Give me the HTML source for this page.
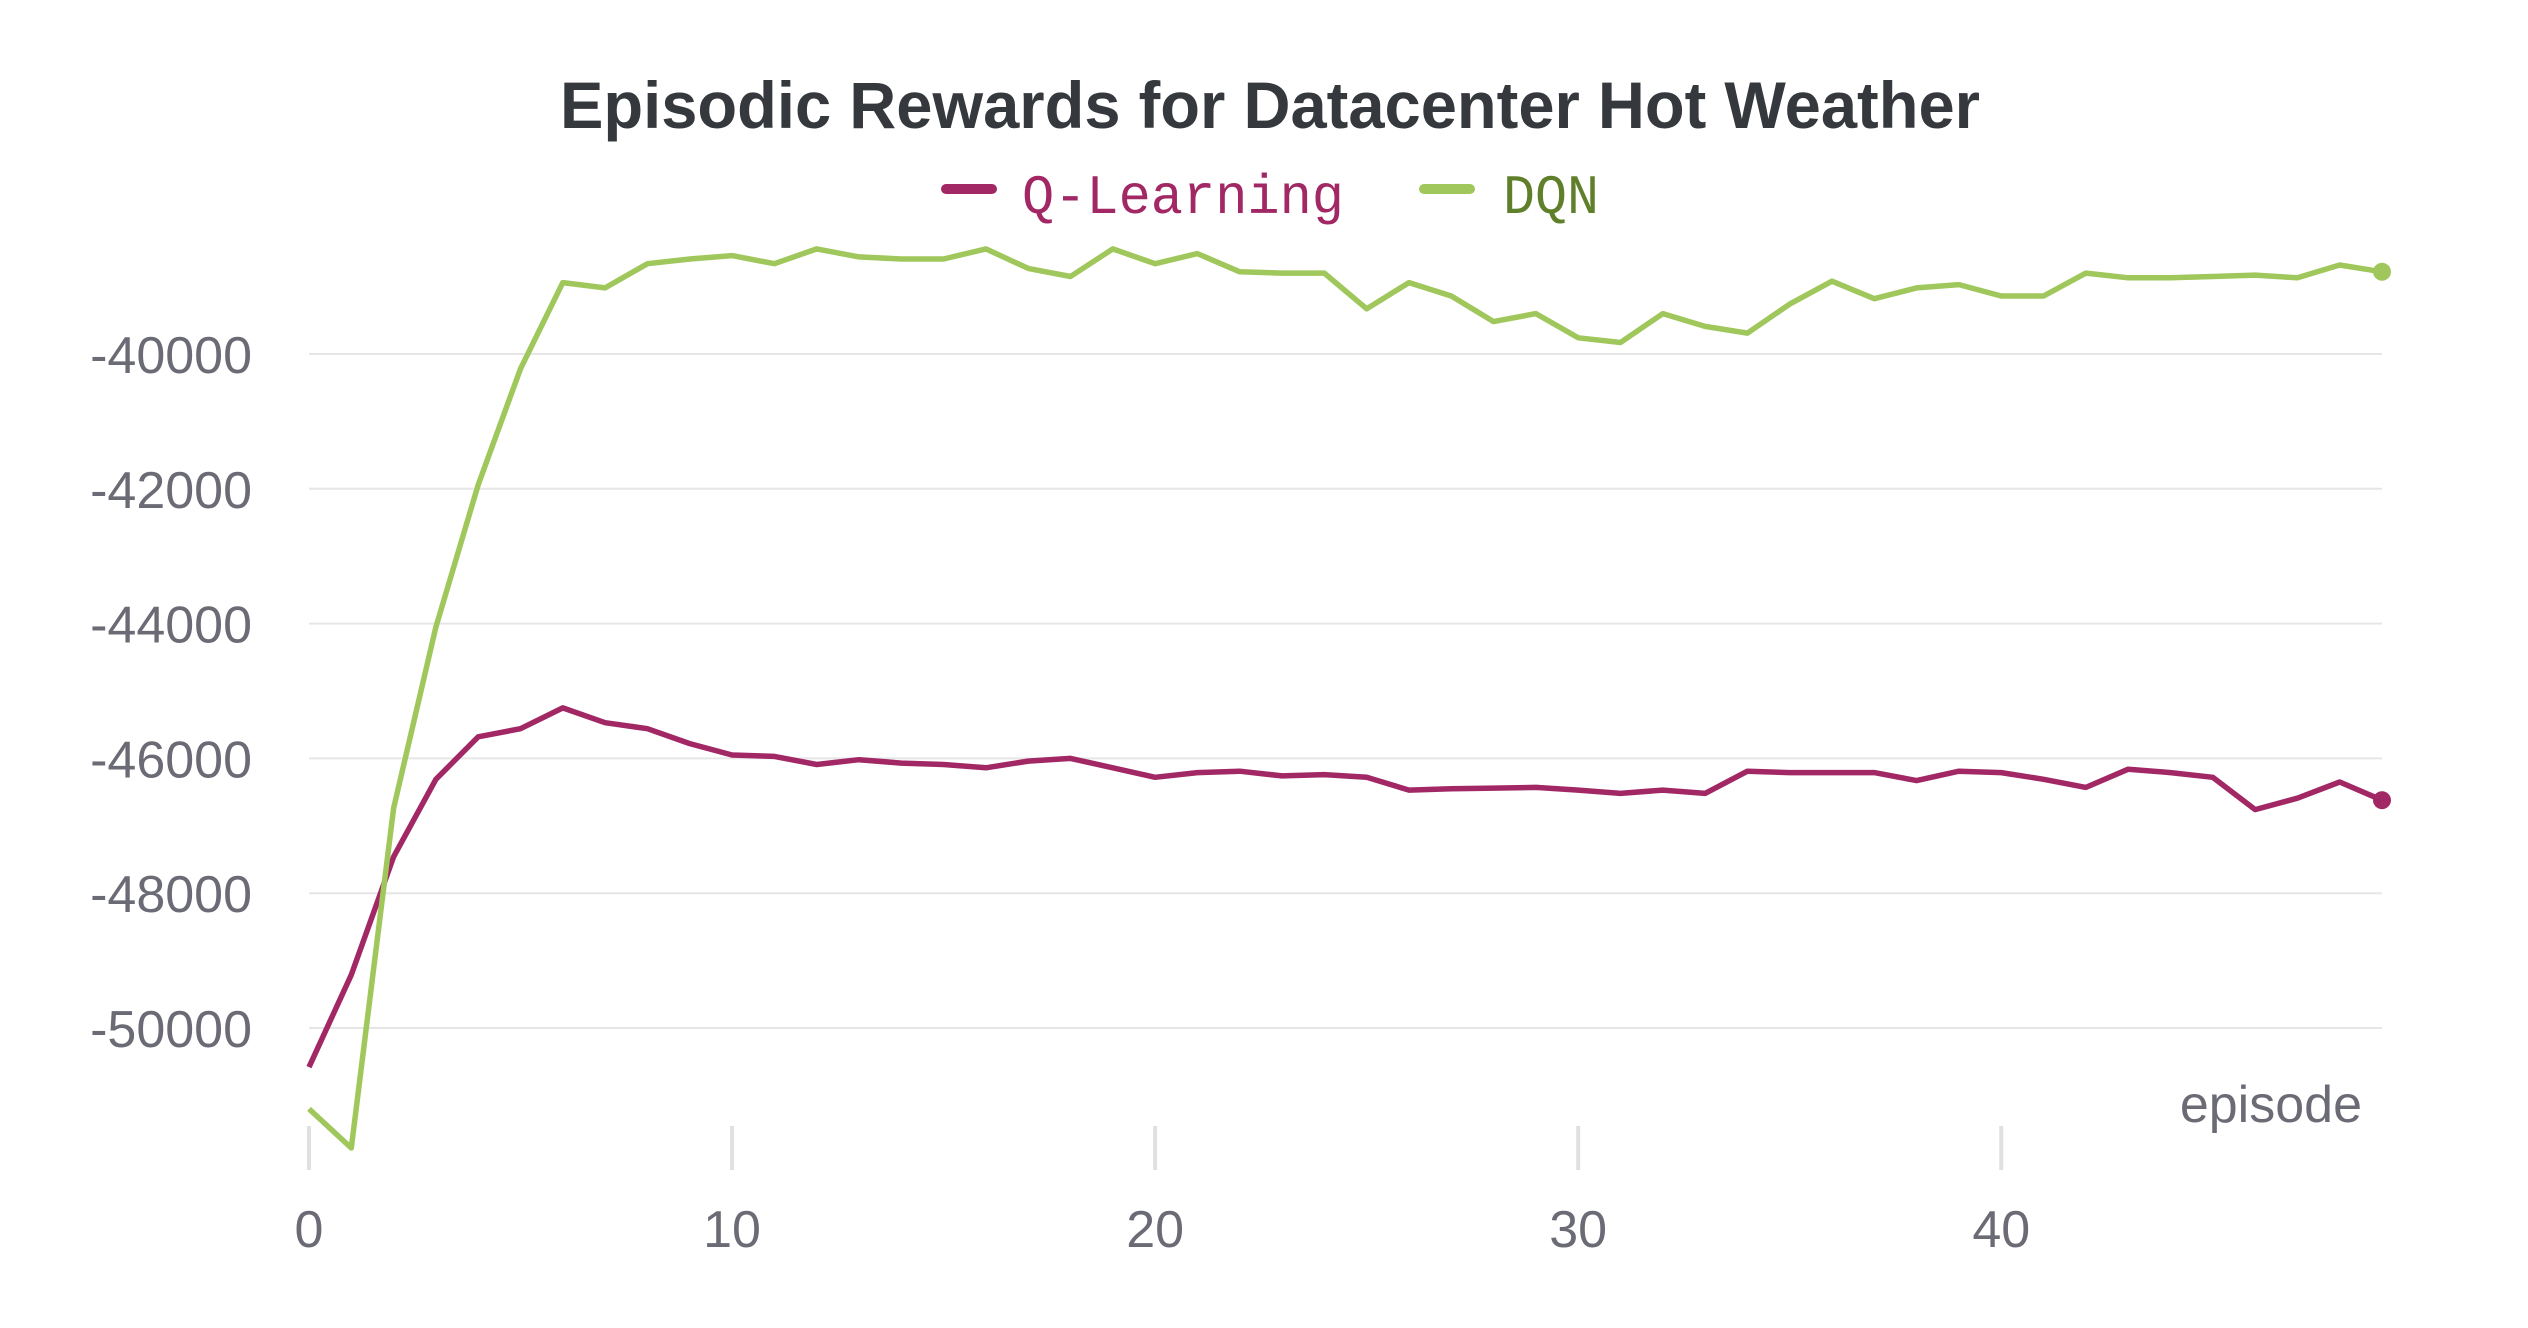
<!DOCTYPE html>
<html><head><meta charset="utf-8"><style>
html,body{margin:0;padding:0;background:#fff;}
svg{display:block;}
</style></head><body>
<svg id="chart" width="2528" height="1328" viewBox="0 0 2528 1328" xmlns="http://www.w3.org/2000/svg">
<text x="1270" y="128" text-anchor="middle" font-family="Liberation Sans, sans-serif" font-weight="bold" font-size="66" fill="#35383c" textLength="1420" lengthAdjust="spacingAndGlyphs">Episodic Rewards for Datacenter Hot Weather</text>
<g>
<line x1="946" y1="189" x2="992" y2="189" stroke="#a12864" stroke-width="10" stroke-linecap="round"/>
<text x="1022" y="213" font-family="Liberation Mono, monospace" font-size="56" fill="#a12864" textLength="322" lengthAdjust="spacingAndGlyphs">Q-Learning</text>
<line x1="1424" y1="189" x2="1470" y2="189" stroke="#a0c75c" stroke-width="10" stroke-linecap="round"/>
<text x="1503" y="213" font-family="Liberation Mono, monospace" font-size="56" fill="#5f7f2a" textLength="96" lengthAdjust="spacingAndGlyphs">DQN</text>
</g>
<g id="grid"></g>
<g id="axes"></g>
<g id="series"></g>
<text x="2362" y="1122" text-anchor="end" font-family="Liberation Sans, sans-serif" font-size="52" fill="#6b6b76">episode</text>
</svg>
<script>
const episodes = Array.from({length:50},(_,i)=>i);
const qLearning = [-50580,-49210,-47460,-46310,-45680,-45560,-45250,-45470,-45560,-45780,-45950,-45970,-46090,-46020,-46070,-46090,-46140,-46040,-46000,-46140,-46280,-46210,-46190,-46260,-46240,-46280,-46470,-46450,-46440,-46430,-46470,-46520,-46470,-46520,-46190,-46210,-46210,-46210,-46330,-46190,-46210,-46310,-46430,-46160,-46210,-46280,-46760,-46590,-46350,-46620];
const dqn = [-51200,-51780,-46740,-44050,-41940,-40220,-38940,-39020,-38660,-38590,-38540,-38660,-38440,-38560,-38590,-38590,-38440,-38730,-38850,-38440,-38660,-38510,-38780,-38800,-38800,-39330,-38940,-39140,-39520,-39400,-39760,-39830,-39400,-39590,-39690,-39260,-38920,-39180,-39020,-38970,-39140,-39140,-38800,-38870,-38870,-38850,-38830,-38870,-38680,-38780];
const yTicks = [-40000,-42000,-44000,-46000,-48000,-50000];
const xTicks = [0,10,20,30,40];

const NS='http://www.w3.org/2000/svg';
function xs(v){return 309 + v*(2382-309)/49;}
function ys(v){return 354 + (-40000 - v)*(1028-354)/10000;}
function mk(tag,attrs,parent){const e=document.createElementNS(NS,tag);for(const k in attrs)e.setAttribute(k,attrs[k]);parent.appendChild(e);return e;}
const grid=document.getElementById('grid'), axes=document.getElementById('axes'), series=document.getElementById('series');
yTicks.forEach(t=>{
  const l=mk('line',{x1:309,x2:2382,y1:ys(t),y2:ys(t),stroke:'#e6e6e6','stroke-width':2},grid);
  
  
  const tx=mk('text',{x:252,y:ys(t)+19,'text-anchor':'end','font-family':'Liberation Sans, sans-serif','font-size':52,fill:'#6b6b76'},axes);
  tx.textContent=t;
  
  
});
xTicks.forEach(t=>{
  const l=mk('line',{x1:xs(t),x2:xs(t),y1:1126,y2:1170,stroke:'#e0e0e0','stroke-width':4},axes);
  
  
  const tx=mk('text',{x:xs(t),y:1247,'text-anchor':'middle','font-family':'Liberation Sans, sans-serif','font-size':52,fill:'#6b6b76'},axes);
  tx.textContent=t;
  
  
});
function drawSeries(vals,color,name){
  const d=vals.map((v,i)=>(i?'L':'M')+xs(episodes[i]).toFixed(1)+' '+ys(v).toFixed(1)).join(' ');
  const p=mk('path',{d:d,fill:'none',stroke:color,'stroke-width':5.5,'stroke-linejoin':'round'},series);
  
  
  const n=vals.length-1;
  const c=mk('circle',{cx:xs(episodes[n]),cy:ys(vals[n]),r:9,fill:color},series);
  
  
}
drawSeries(qLearning,'#a12864','q-learning');
drawSeries(dqn,'#a0c75c','dqn');
</script>
</body></html>
